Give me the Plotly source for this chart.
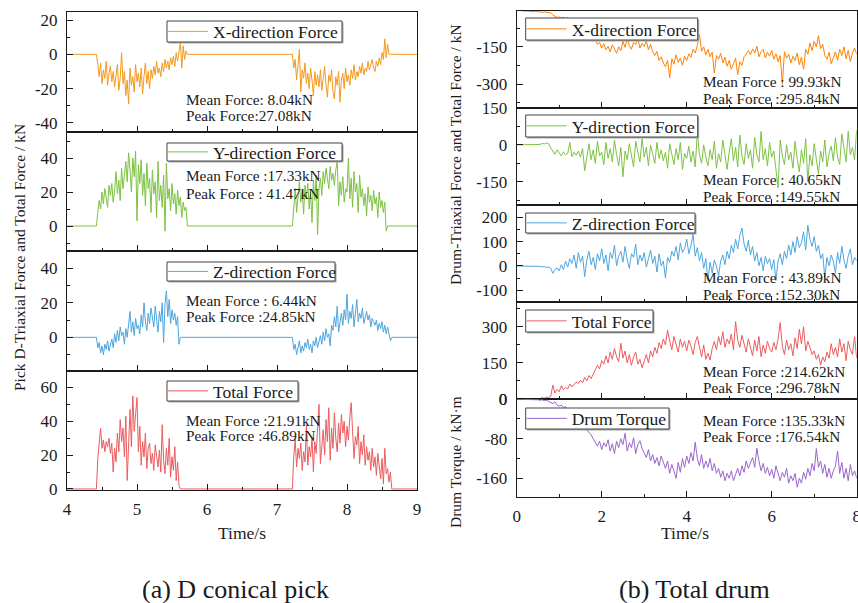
import plotly.graph_objects as go

# ======================= DATA =======================
# (a) D conical pick — time samples (s) of the two cutting segments
pick_t1 = [4.42, 4.44, 4.46, 4.48, 4.5, 4.52, 4.54, 4.56, 4.58, 4.6,
           4.62, 4.64, 4.66, 4.68, 4.7, 4.72, 4.74, 4.76, 4.78, 4.8,
           4.82, 4.84, 4.86, 4.88, 4.9, 4.92, 4.94, 4.96, 4.98, 5.0,
           5.02, 5.04, 5.06, 5.08, 5.1, 5.12, 5.14, 5.16, 5.18, 5.2,
           5.22, 5.24, 5.26, 5.28, 5.3, 5.32, 5.34, 5.36, 5.38, 5.4,
           5.42, 5.44, 5.46, 5.48, 5.5, 5.52, 5.54, 5.56, 5.58, 5.6,
           5.62, 5.64, 5.66, 5.68, 5.7, 5.72]
pick_t2 = [7.22, 7.24, 7.26, 7.28, 7.3, 7.32, 7.34, 7.36, 7.38, 7.4,
           7.42, 7.44, 7.46, 7.48, 7.5, 7.52, 7.54, 7.56, 7.58, 7.6,
           7.62, 7.64, 7.66, 7.68, 7.7, 7.72, 7.74, 7.76, 7.78, 7.8,
           7.82, 7.84, 7.86, 7.88, 7.9, 7.92, 7.94, 7.96, 7.98, 8.0,
           8.02, 8.04, 8.06, 8.08, 8.1, 8.12, 8.14, 8.16, 8.18, 8.2,
           8.22, 8.24, 8.26, 8.28, 8.3, 8.32, 8.34, 8.36, 8.38, 8.4,
           8.42, 8.44, 8.46, 8.48, 8.5, 8.52, 8.54, 8.56, 8.58, 8.6,
           8.62, 8.64, 8.66]
pick_t_start = [4.0]
pick_t_end = [9.0]

pick_x1 = [0, -6, -13, -5, -17, -9, -14, -4, -18, -11,
           -7, -16, -10, -19, -12, -6, -21, -14, 1, -17,
           -10, -24, -15, -29, -8, -18, -13, -22, -6, -16,
           -11, -19, -8, -23, -13, -5, -17, -10, -20, -9,
           -14, -7, -12, -4, -11, -8, -13, -5, -10, -3,
           -8, -4, -9, -2, -6, -1, -7, 1, -4, 3,
           7, -8, 5, -3, 2, 0]
pick_x2 = [0, -8, -3, -15, -6, 3, -22, -9, -14, -5,
           -17, -11, -20, -8, -15, -24, -10, -18, -12, -19,
           -9, -21, -14, -7, -18, -25, -12, -16, -9, -22,
           -26, -13, -18, -10, -28, -15, -11, -20, -8, -16,
           -12, -18, -9, -14, -6, -15, -10, -13, -7, -11,
           -5, -12, -8, -10, -4, -9, -6, -3, -8, -10,
           -4, -7, -2, -6, 1, -3, 9, -2, 6, 0,
           0, 0, 0]

pick_y1 = [0, 8, 15, 10, 20, 13, 22, 17, 11, 24,
           18, 25, 14, 21, 32, 19, 27, 15, 34, 22,
           30, 38, 26, 43, 33, 20, 40, 29, 44, 3,
           36, 25, 39, 18, 31, 12, 37, 22, 28, 8,
           33, 19, 26, 5, 38, 15, 24, 11, 30, -3,
           37, 16, 22, 9, 25, 13, 19, 7, 21, 12,
           17, 5, 14, 9, 11, 0]
pick_y2 = [0, 12, 22, 8, 19, 26, 14, 21, 7, 24,
           17, 25, 10, 20, 2, 27, 15, 30, -5, 22,
           28, 18, 32, 25, 34, 29, 22, 35, 27, 31,
           24, 33, 38, 12, 26, 18, 29, 14, 22, 20,
           40, 16, 28, 11, 32, 20, 25, 8, 30, 17,
           22, 12, 19, 6, 23, 14, 18, 9, 21, 13,
           17, 5, 20, 11, 15, 8, 14, -3, 0, 0,
           0, 0, 0]

pick_z1 = [0, -6, -3, -9, -5, -10, -4, -7, -2, -8,
           -5, -1, -6, 2, -3, 4, -2, 6, 1, 3,
           -4, 5, 0, 8, 15, 3, 9, 1, 11, 5,
           7, 2, 13, 6, 20, 9, 4, 14, 8, 17,
           11, 6, 18, 10, 3, 15, 9, 20, -3, 19,
           27, 12, 22, 8, 16, 10, 14, 7, 12, -4,
           0, 0, 0, 0, 0, 0]
pick_z2 = [0, -7, -4, -10, -6, -2, -9, -5, -8, -3,
           -6, -1, -7, -4, -9, -2, -5, 0, -6, -3,
           1, -4, 3, -2, 5, 0, 2, -5, 7, 4,
           12, 6, 18, 3, 9, 14, 7, 16, 10, 25,
           8, 15, 11, 19, 6, 13, 22, 9, 14, 11,
           17, 8, 12, 15, 10, 13, 6, 11, 9, 7,
           10, 4, 8, 5, 9, 3, 7, 2, 6, 1,
           -2, 0, 0]

pick_f1 = [0, 18, 26, 36, 24, 29, 22, 28, 25, 30,
           21, 27, 10, 24, 16, 33, 22, 41, 28, 36,
           19, 43, 5, 30, 47, 25, 55, 34, 42, 54,
           22, 37, 14, 28, 19, 33, 12, 24, 27, 15,
           21, 11, 26, 18, 13, 23, 10, 38, 17, 9,
           24, 14, 30, 7, 19, 11, 25, 5, 16, 2,
           0, 0, 0, 0, 0, 0]
pick_f2 = [0, 20, 29, 13, 24, 18, 27, 11, 22, 16,
           38, 14, 25, 19, 30, 10, 28, 21, 33, 50,
           15, 26, 35, 20, 41, 28, 48, 17, 36, 24,
           45, 30, 22, 39, 27, 44, 33, 40, 25, 37,
           29, 42, 51, 34, 18, 31, 26, 37, 15, 28,
           20, 32, 14, 25, 17, 22, 11, 24, 13, 19,
           8, 21, 15, 6, 18, 3, 24, 9, 12, 4,
           10, 0, 0]

# (b) Total drum — time samples (s)
drum_t = [0, 0.05, 0.1, 0.15, 0.2, 0.25, 0.3, 0.35, 0.4, 0.45,
          0.5, 0.55, 0.6, 0.65, 0.7, 0.75, 0.8, 0.85, 0.9, 0.95,
          1.0, 1.05, 1.1, 1.15, 1.2, 1.25, 1.3, 1.35, 1.4, 1.45,
          1.5, 1.55, 1.6, 1.65, 1.7, 1.75, 1.8, 1.85, 1.9, 1.95,
          2.0, 2.05, 2.1, 2.15, 2.2, 2.25, 2.3, 2.35, 2.4, 2.45,
          2.5, 2.55, 2.6, 2.65, 2.7, 2.75, 2.8, 2.85, 2.9, 2.95,
          3.0, 3.05, 3.1, 3.15, 3.2, 3.25, 3.3, 3.35, 3.4, 3.45,
          3.5, 3.55, 3.6, 3.65, 3.7, 3.75, 3.8, 3.85, 3.9, 3.95,
          4.0, 4.05, 4.1, 4.15, 4.2, 4.25, 4.3, 4.35, 4.4, 4.45,
          4.5, 4.55, 4.6, 4.65, 4.7, 4.75, 4.8, 4.85, 4.9, 4.95,
          5.0, 5.05, 5.1, 5.15, 5.2, 5.25, 5.3, 5.35, 5.4, 5.45,
          5.5, 5.55, 5.6, 5.65, 5.7, 5.75, 5.8, 5.85, 5.9, 5.95,
          6.0, 6.05, 6.1, 6.15, 6.2, 6.25, 6.3, 6.35, 6.4, 6.45,
          6.5, 6.55, 6.6, 6.65, 6.7, 6.75, 6.8, 6.85, 6.9, 6.95,
          7.0, 7.05, 7.1, 7.15, 7.2, 7.25, 7.3, 7.35, 7.4, 7.45,
          7.5, 7.55, 7.6, 7.65, 7.7, 7.75, 7.8, 7.85, 7.9, 7.95,
          8.0]

drum_x = [-2, -4, -6, -5, -7, -6, -8, -7, -9, -8,
          -10, -9, -11, -10, -12, -11, -13, -22, -28, -32,
          -30, -34, -31, -36, -33, -40, -48, -55, -62, -70,
          -75, -82, -90, -98, -105, -115, -128, -120, -140, -132,
          -155, -138, -162, -148, -170, -142, -158, -176, -150, -165,
          -128, -152, -118, -145, -160, -132, -140, -115, -155, -136,
          -148, -125, -162, -140, -170, -185, -168, -205, -190, -215,
          -230, -205, -275, -198, -220, -182, -212, -195, -225, -188,
          -205, -178, -192, -160, -175, -145, -100, -168, -150, -182,
          -160, -190, -172, -255, -185, -200, -176, -215, -192, -228,
          -205, -240, -218, -195, -262, -210, -225, -190, -180, -165,
          -182, -158, -175, -148, -190, -170, -160, -195, -172, -188,
          -165, -200, -178, -210, -185, -300, -170, -195, -180, -215,
          -188, -205, -175, -222, -192, -240, -160, -180, -135, -165,
          -128, -150, -105, -158, -140, -185, -200, -172, -218, -190,
          -170, -205, -160, -185, -150, -198, -165, -210, -175, -155,
          -180]

drum_y = [0, 0, 0, 0, 0, 0, 0, 0, 0, 0,
          0, 2, 6, 4, 8, 5, -12, -25, -38, -20,
          -32, -45, -28, -40, -35, 10, -48, -30, -42, -25,
          -50, -15, -105, -40, 5, -60, -20, -75, 15, -45,
          -30, -80, 10, -55, -15, -70, 20, -40, -85, -10,
          -130, -25, -60, 5, -45, -90, 15, -35, -70, 25,
          -50, -10, -85, 0, -40, -75, 10, -55, -20, -65,
          -30, -95, 5, -45, -80, -15, -60, 10, -100, -35,
          -55, -5, -70, -25, -90, 50, -40, -75, 0, -50,
          -85, -20, -60, 15, -95, -35, -70, 20, -50, -100,
          -30, 25, -65, -10, -90, 40, -45, -80, 5, -55,
          -20, -95, 30, -40, -70, 55, -60, -15, -85, 10,
          -50, -25, -100, -175, 20, -45, -80, 0, -60, -30,
          -95, 15, -55, -110, -20, -75, 25, -150, -40, -85,
          5, -60, -120, -25, -70, 20, -90, -35, -5, -65,
          30, -50, -80, 45, -20, -70, 55, -40, -10, -60,
          60]

drum_z = [0, 0, 0, 0, 0, 0, 0, 0, 0, 0,
          0, -2, -4, -3, -6, -5, -10, -30, -15, -8,
          -20, 5, -15, 20, -5, 30, 10, 45, -10, 55,
          15, 40, -44, 25, 60, 5, 35, -15, 50, 20,
          70, 10, 45, -20, 55, 30, 85, 0, 40, 60,
          15, 80, 25, -10, 50, 35, 90, 5, 45, 20,
          55, -5, 30, 65, 10, 40, -25, 50, 0, 20,
          -50, 35, 15, 60, 40, 80, 25, 95, 55, 70,
          110, 50, 85, 130, 40, 75, 20, 55, -10, 30,
          -60, 15, -30, 25, 0, -40, 20, 45, 5, 60,
          30, 85, 55, 110, 70, 125, 156, 90, 60, 105,
          45, 80, 20, 55, 0, 35, -20, 40, 10, 30,
          -15, 25, -60, 20, 50, 5, 60, 30, 85, 45,
          100, 55, 120, 75, 95, 140, 65, 167, 110, 80,
          120, 60, 85, 30, 50, -50, 35, 0, 45, 20,
          -30, 55, 10, 80, 25, -10, 40, 70, 5, 35,
          20]

drum_f = [0, 0, 0, 0, 0, 0, 0, 0, 0, 0,
          0, 2, 5, 3, 8, 6, 10, 58, 25, 40,
          30, 55, 38, 48, 42, 62, 50, 58, 70, 65,
          78, 68, 90, 75, 98, 85, 105, 118, 140, 125,
          160, 145, 180, 150, 195, 165, 210, 175, 155, 232,
          170, 200, 150, 185, 140, 175, 195, 145, 165, 130,
          160, 185, 150, 200, 175, 215, 190, 235, 210, 250,
          225, 287, 240, 205, 260, 230, 195, 250, 215, 240,
          200, 245, 220, 185, 235, 260, 210, 175, 225, 165,
          190, 162, 210, 240, 205, 260, 225, 280, 215, 250,
          230, 270, 205, 322, 245, 215, 265, 230, 195, 250,
          220, 180, 245, 200, 260, 176, 225, 190, 240, 210,
          195, 235, 205, 250, 318, 220, 185, 245, 205, 230,
          180, 255, 210, 290, 230, 301, 200, 240, 215, 185,
          200, 165, 185, 141, 175, 155, 195, 170, 230, 185,
          215, 175, 250, 195, 230, 160, 240, 205, 185, 260,
          170]

drum_m = [0, 0, 0, 0, 0, 0, 0, 0, 0, -1,
          -1, -2, -1, -3, -2, -4, -6, -9, -5, -12,
          -14, -12, -17, -15, -20, -24, -28, -33, -38, -42,
          -47, -52, -56, -60, -65, -72, -80, -88, -95, -85,
          -102, -88, -96, -82, -105, -90, -110, -85, -98, -80,
          -92, -69, -105, -88, -98, -78, -110, -92, -84, -100,
          -108, -118, -102, -125, -112, -130, -118, -135, -115, -128,
          -140, -125, -150, -132, -145, -160, -128, -148, -120, -138,
          -115, -130, -108, -125, -87, -120, -135, -112, -140, -125,
          -138, -120, -145, -130, -150, -140, -158, -145, -165, -150,
          -160, -145, -165, -152, -140, -155, -135, -148, -125, -140,
          -130, -118, -138, -99, -125, -145, -130, -150, -138, -155,
          -142, -160, -135, -150, -165, -148, -158, -140, -170, -155,
          -165, -150, -178, -160, -170, -148, -162, -140, -155, -130,
          -145, -100, -138, -125, -150, -132, -158, -140, -160, -145,
          -135, -105, -150, -128, -160, -140, -165, -132, -155, -145,
          -160]

series_names = ["X-direction Force", "Y-direction Force", "Z-direction Force", "Total Force"]
torque_name = "Drum Torque"

pick_stats = [["Mean Force: 8.04kN", "Peak Force:27.08kN"],
              ["Mean Force :17.33kN", "Peak Force : 41.47kN"],
              ["Mean Force : 6.44kN", "Peak Force :24.85kN"],
              ["Mean Force :21.91kN", "Peak Force :46.89kN"]]
drum_stats = [["Mean Force : 99.93kN", "Peak Force :295.84kN"],
              ["Mean Force : 40.65kN", "Peak Force :149.55kN"],
              ["Mean Force : 43.89kN", "Peak Force :152.30kN"],
              ["Mean Force :214.62kN", "Peak Force :296.78kN"],
              ["Mean Force :135.33kN", "Peak Force :176.54kN"]]

pick_yticks = [[20, 0, -20, -40], [40, 20, 0], [40, 20, 0], [60, 40, 20, 0]]
drum_yticks = [[-150, -300], [150, 0, -150], [200, 100, 0, -100], [300, 150, 0], [0, -80, -160]]
pick_xticks = [4, 5, 6, 7, 8, 9]
drum_xticks = [0, 2, 4, 6, 8]

pick_ylabel = "Pick D-Triaxial Force and Total Force / kN"
drum_ylabel = "Drum-Triaxial Force and Total Force / kN"
torque_ylabel = "Drum Torque / kN·m"
xlabel = "Time/s"
captions = ["(a) D conical pick", "(b) Total drum"]

# ======================= LAYOUT / STYLE =======================
W, H = 858, 603
FONT = "Liberation Serif"
INK = "#1a1a1a"


def fx(p):
    return p / W


def fy(p):
    return 1 - p / H


pick_t = pick_t_start + pick_t1 + pick_t2 + pick_t_end
pick_series = [
    [0] + pick_x1 + pick_x2 + [0],
    [0] + pick_y1 + pick_y2 + [0],
    [0] + pick_z1 + pick_z2 + [0],
    [0] + pick_f1 + pick_f2 + [0],
]
drum_series = [drum_x, drum_y, drum_z, drum_f, drum_m]

pick_colors = ["#F39A1E", "#7CC242", "#4FA5DE", "#EC5C5E"]
drum_colors = ["#FF8000", "#7CC242", "#4FA5DE", "#EC5C5E", "#9966CC"]

# panel pixel geometry
LEFT_X = (67, 417)
RIGHT_X = (516.7, 856.7)
left_rows = [(12, 132), (132, 251), (251, 371), (371, 490)]
right_rows = [(11, 108), (108, 205), (205, 302), (302, 399), (399, 497)]
left_ranges = [[-45.3, 24.7], [-14.7, 55.3], [-19.5, 50], [-0.6, 69.7]]
right_ranges = [[-396, -6], [-245, 150.5], [-148, 250], [0, 403.6], [-198, 0.5]]
left_minor = [10, 10, 10, 10]
right_minor = [75, 75, 50, 75, 40]
# legend frames (x0, x1, y0, y1) in px
left_legend_box = [(167, 342, 21, 42), (167, 342, 143, 161), (167, 335, 262, 281), (167, 298, 381, 401)]
right_legend_box = [(525.7, 697.7, 18, 40), (525.7, 697.7, 115, 137), (525.7, 695, 213, 233),
                    (525.7, 653, 310, 332), (525.7, 669, 408, 429)]
left_stats_y = [(99, 115), (175, 193), (300.7, 316.7), (420, 435.7)]
right_stats_y = [(81.7, 98.3), (180, 196), (277.7, 294.3), (371.7, 387.3), (420, 436)]

fig = go.Figure()
layout = dict(
    width=W, height=H, margin=dict(l=0, r=0, t=0, b=0, autoexpand=False),
    paper_bgcolor="white", plot_bgcolor="white",
    font=dict(family=FONT, color=INK),
    showlegend=True,
)
shapes = []

tickfont = dict(family=FONT, size=17, color=INK)


def add_panel(n, xdom, xrange, xticks, xminor, show_xlabels, row, yrange, yticks, yminor,
              t, vals, color, name, box):
    xa = "xaxis" if n == 1 else f"xaxis{n}"
    ya = "yaxis" if n == 1 else f"yaxis{n}"
    xr = "x" if n == 1 else f"x{n}"
    yr = "y" if n == 1 else f"y{n}"
    lg = "legend" if n == 1 else f"legend{n}"
    common = dict(showline=True, linecolor=INK, linewidth=1, mirror=True, automargin=False,
                  ticks="inside", ticklen=6, tickwidth=1, tickcolor=INK,
                  showgrid=False, zeroline=False, tickfont=tickfont, fixedrange=True)
    layout[xa] = dict(common, domain=[fx(xdom[0]), fx(xdom[1])], range=xrange, anchor=yr,
                      tickmode="array", tickvals=xticks, ticktext=[str(v) for v in xticks],
                      showticklabels=show_xlabels, ticklabelstandoff=4, ticklabeloverflow="allow",
                      minor=dict(ticks="inside", ticklen=3, tickcolor=INK, dtick=xminor, tick0=0, showgrid=False))
    layout[ya] = dict(common, domain=[fy(row[1]), fy(row[0])], range=yrange, anchor=xr,
                      tickmode="array", tickvals=yticks, ticktext=[str(v) for v in yticks],
                      ticklabelstandoff=5,
                      minor=dict(ticks="inside", ticklen=3, tickcolor=INK, dtick=yminor, tick0=0, showgrid=False))
    fig.add_trace(go.Scatter(x=t, y=vals, mode="lines", name=name,
                             line=dict(color=color, width=1), xaxis=xr, yaxis=yr,
                             legend=lg, hoverinfo="skip"))
    x0, x1, y0, y1 = box
    # legend frame: soft shadow + white box (covers the curve behind it, as in the source)
    shapes.append(dict(type="rect", xref="paper", yref="paper", layer="above",
                       x0=fx(x0 + 1.5), x1=fx(x1 + 1.5), y0=fy(y1 + 1.5), y1=fy(y0 + 1.5),
                       line=dict(width=0), fillcolor="#a8a8a8"))
    shapes.append(dict(type="rect", xref="paper", yref="paper", layer="above",
                       x0=fx(x0), x1=fx(x1), y0=fy(y1), y1=fy(y0),
                       line=dict(color="#444", width=1), fillcolor="white"))
    layout[lg] = dict(x=fx(x0 - 4), y=fy((y0 + y1) / 2), xanchor="left", yanchor="middle",
                      bgcolor="rgba(0,0,0,0)", borderwidth=0,
                      font=dict(family=FONT, size=17.5, color=INK),
                      itemwidth=40, tracegroupgap=0)


n = 1
for i in range(4):
    add_panel(n, LEFT_X, [4, 9], pick_xticks, 0.5, i == 3, left_rows[i], left_ranges[i],
              pick_yticks[i], left_minor[i], pick_t, pick_series[i], pick_colors[i],
              series_names[i], left_legend_box[i])
    n += 1
for i in range(5):
    name = series_names[i] if i < 4 else torque_name
    add_panel(n, RIGHT_X, [0, 8], drum_xticks, 1, i == 4, right_rows[i], right_ranges[i],
              drum_yticks[i], right_minor[i], drum_t, drum_series[i], drum_colors[i],
              name, right_legend_box[i])
    n += 1

annotations = []


def text(x, y, s, size, angle=0, xanchor="center"):
    annotations.append(dict(x=fx(x), y=fy(y), xref="paper", yref="paper", text=s,
                            showarrow=False, textangle=angle, xanchor=xanchor, yanchor="middle",
                            font=dict(family=FONT, size=size, color=INK)))


for i in range(4):
    for j in range(2):
        text(184, left_stats_y[i][j], pick_stats[i][j], 15.3, xanchor="left")
for i in range(5):
    for j in range(2):
        text(700.7, right_stats_y[i][j], drum_stats[i][j], 15.3, xanchor="left")

text(19, 258, pick_ylabel, 15.5, angle=-90)
text(455, 155, drum_ylabel, 15.5, angle=-90)
text(455, 462, torque_ylabel, 15.5, angle=-90)
text(242, 533, xlabel, 17.5)
text(685, 533, xlabel, 17.5)
text(235, 589, captions[0], 26)
text(694, 589, captions[1], 26)

layout["annotations"] = annotations
layout["shapes"] = shapes
fig.update_layout(**layout)
fig.write_html(
    "out.html",
    config={"displayModeBar": False},
    post_script="document.body.style.margin='0';document.body.style.overflow='hidden';",
)
